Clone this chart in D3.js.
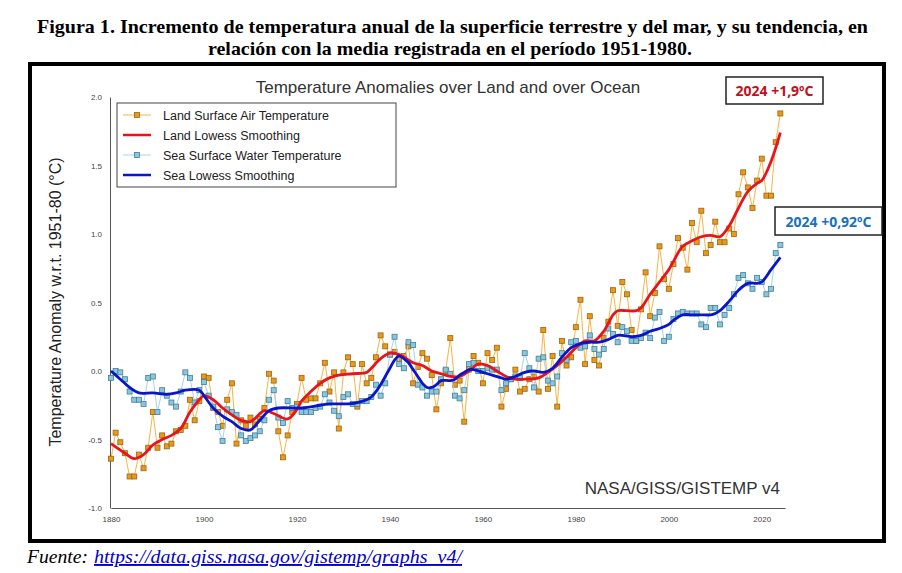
<!DOCTYPE html>
<html>
<head>
<meta charset="utf-8">
<script src="https://cdn.jsdelivr.net/npm/d3@7"></script>
<style>
  body { margin: 0; background: #fff; }
  .tick text { font-family: "Liberation Sans", Arial, sans-serif; font-size: 8px; fill: #444; }
</style>
</head>
<body>
<div id="chart"></div>
<script>
/* DATA */
const startYear = 1880;

// annual land surface air temperature anomaly, 1880-2024
const landTemp = [
  -0.64,-0.45,-0.52,-0.60,-0.77,-0.77,-0.61,-0.71,-0.56,-0.30,
  -0.56,-0.47,-0.55,-0.53,-0.44,-0.43,-0.40,-0.21,-0.36,-0.22,
  -0.04,-0.05,-0.27,-0.30,-0.40,-0.21,-0.09,-0.53,-0.36,-0.40,
  -0.34,-0.39,-0.35,-0.27,-0.02,-0.07,-0.44,-0.63,-0.47,-0.30,
  -0.24,-0.05,-0.21,-0.20,-0.20,-0.09, 0.06,-0.15,-0.01,-0.42,
  -0.01, 0.10, 0.05,-0.26, 0.05,-0.09,-0.05, 0.10, 0.26, 0.18,
   0.12, 0.14, 0.09, 0.11, 0.18,-0.09, 0.03, 0.13, 0.09,-0.03,
  -0.28,-0.09, 0.00, 0.24,-0.10,-0.07,-0.37, 0.01, 0.11, 0.06,
  -0.09, 0.13, 0.08, 0.17,-0.26,-0.13,-0.06, 0.01,-0.15,-0.13,
  -0.06,-0.04,-0.15, 0.30,-0.13, 0.11,-0.26, 0.22, 0.04, 0.10,
   0.32, 0.52, 0.05, 0.40, 0.08, 0.04, 0.24, 0.36, 0.59, 0.33,
   0.65, 0.56, 0.30, 0.22, 0.45, 0.72, 0.40, 0.57, 0.91, 0.67,
   0.60, 0.78, 0.97, 0.90, 0.74, 1.08, 0.94, 1.17, 0.86, 0.92,
   1.09, 0.94, 0.94, 1.04, 1.00, 1.29, 1.45, 1.34, 1.19, 1.39,
   1.55, 1.28, 1.28, 1.67, 1.88
];

// annual sea surface water temperature anomaly, 1880-2024
const seaTemp = [
  -0.05, 0.00,-0.01,-0.06,-0.15,-0.21,-0.21,-0.24,-0.05,-0.04,
  -0.30,-0.14,-0.18,-0.23,-0.26,-0.15,-0.01,-0.05,-0.23,-0.14,
  -0.08,-0.18,-0.26,-0.41,-0.51,-0.28,-0.30,-0.32,-0.47,-0.51,
  -0.49,-0.47,-0.44,-0.36,-0.21,-0.14,-0.34,-0.38,-0.22,-0.27,
  -0.26,-0.30,-0.30,-0.30,-0.27,-0.26,-0.17,-0.23,-0.29,-0.33,
  -0.19,-0.17,-0.24,-0.24,-0.22,-0.22,-0.19,-0.10,-0.18,-0.09,
   0.12, 0.25, 0.05, 0.02, 0.21, 0.19,-0.10,-0.12,-0.18,-0.15,
  -0.15,-0.06, 0.01,-0.02,-0.18,-0.20,-0.14, 0.05, 0.06, 0.00,
   0.00, 0.02, 0.01, 0.01,-0.14,-0.09,-0.06,-0.04,-0.05, 0.13,
   0.02,-0.12, 0.09, 0.10,-0.07,-0.09,-0.04, 0.13, 0.08, 0.21,
   0.22, 0.17, 0.18, 0.26, 0.16, 0.12, 0.16, 0.31, 0.27, 0.21,
   0.32, 0.29, 0.22, 0.22, 0.24, 0.28, 0.24, 0.39, 0.43, 0.22,
   0.25, 0.38, 0.42, 0.43, 0.42, 0.42, 0.42, 0.34, 0.32, 0.46,
   0.46, 0.34, 0.41, 0.46, 0.56, 0.68, 0.70, 0.64, 0.60, 0.68,
   0.65, 0.56, 0.60, 0.86, 0.92
];

// lowess smoothing curves, read at a set of years
const landSmoothYears = [1880,1883,1885,1887,1889,1891,1893,1895,1897,1899,1900,1902,1904,1906,1908,1910,1913,1915,1918,1920,1921,1923,1925,1927,1929,1932,1935,1936,1938,1940,1942,1945,1947,1949,1951,1953,1955,1957,1959,1961,1963,1965,1967,1969,1972,1974,1976,1978,1980,1982,1984,1986,1988,1989,1991,1993,1994,1996,1998,2000,2001,2003,2005,2007,2009,2011,2013,2015,2017,2019,2020,2022,2024];
const landSmooth      = [-0.53,-0.60,-0.64,-0.61,-0.54,-0.50,-0.47,-0.42,-0.30,-0.21,-0.18,-0.21,-0.27,-0.32,-0.36,-0.37,-0.29,-0.31,-0.35,-0.28,-0.22,-0.15,-0.09,-0.05,-0.03,-0.02,-0.01,0.02,0.09,0.13,0.12,0.06,0.04,0.00,-0.02,-0.04,-0.04,0.00,0.05,0.04,0.00,-0.04,-0.06,-0.06,-0.05,-0.01,0.04,0.10,0.17,0.22,0.22,0.29,0.41,0.44,0.44,0.44,0.46,0.56,0.65,0.74,0.80,0.91,0.95,0.98,0.99,0.98,1.06,1.19,1.31,1.37,1.39,1.53,1.74];

const seaSmoothYears = [1880,1882,1884,1886,1889,1892,1894,1896,1899,1900,1902,1904,1906,1908,1910,1912,1914,1916,1921,1925,1927,1931,1933,1935,1936,1937,1938,1939,1940,1941,1942,1943,1944,1945,1946,1947,1948,1949,1950,1951,1953,1954,1955,1956,1957,1958,1960,1962,1964,1965,1967,1969,1971,1973,1975,1977,1979,1981,1983,1985,1987,1989,1990,1992,1994,1996,1998,2000,2001,2003,2005,2007,2009,2010,2011,2013,2015,2017,2019,2020,2022,2024];
const seaSmooth      = [0.00,-0.06,-0.12,-0.16,-0.16,-0.17,-0.16,-0.14,-0.14,-0.18,-0.27,-0.33,-0.37,-0.42,-0.43,-0.36,-0.29,-0.27,-0.27,-0.25,-0.24,-0.24,-0.23,-0.21,-0.19,-0.15,-0.10,-0.04,0.02,0.08,0.11,0.09,0.06,0.01,-0.04,-0.09,-0.12,-0.12,-0.10,-0.07,-0.07,-0.06,-0.03,-0.01,0.01,0.01,-0.01,-0.03,-0.05,-0.06,-0.04,-0.01,0.00,-0.01,0.02,0.10,0.17,0.20,0.21,0.21,0.23,0.26,0.26,0.25,0.26,0.29,0.31,0.34,0.37,0.41,0.41,0.41,0.41,0.42,0.44,0.51,0.59,0.64,0.64,0.65,0.74,0.83];

const xTicks = [1880,1900,1920,1940,1960,1980,2000,2020];
const yTicks = [-1.0,-0.5,0.0,0.5,1.0,1.5,2.0];

const legendItems = [
  {label: "Land Surface Air Temperature", kind: "land"},
  {label: "Land Lowess Smoothing", kind: "landSmooth"},
  {label: "Sea Surface Water Temperature", kind: "sea"},
  {label: "Sea Lowess Smoothing", kind: "seaSmooth"}
];

/* COLOURS */
const landLine = "#f7b445", landFill = "#e89a1c", landStroke = "#9a6410";
const seaLine = "#a6d4ea", seaFill = "#8cc6dc", seaStroke = "#3f7f98";
const redLine = "#e8141b", blueLine = "#0a14c8";

/* SVG */
const width = 902, height = 573;
const svg = d3.select("#chart").append("svg")
    .attr("width", width)
    .attr("height", height);

const serif = '"Liberation Serif", "Times New Roman", serif';
const sans = '"Liberation Sans", Arial, sans-serif';

/* FIGURE TITLE */
svg.append("text")
    .attr("x", 37).attr("y", 33)
    .attr("textLength", 831).attr("lengthAdjust", "spacingAndGlyphs")
    .style("font-family", serif).style("font-weight", "bold").style("font-size", "19px")
    .text("Figura 1. Incremento de temperatura anual de la superficie terrestre y del mar, y su tendencia, en");

svg.append("text")
    .attr("x", 450).attr("y", 55)
    .attr("text-anchor", "middle")
    .attr("textLength", 484).attr("lengthAdjust", "spacingAndGlyphs")
    .style("font-family", serif).style("font-weight", "bold").style("font-size", "19px")
    .text("relación con la media registrada en el período 1951-1980.");

/* FRAME */
svg.append("rect")
    .attr("x", 30).attr("y", 64)
    .attr("width", 854).attr("height", 477)
    .attr("fill", "none").attr("stroke", "#000").attr("stroke-width", 4);

/* SCALES */
const xScale = d3.scaleLinear().domain([1880, 2025]).range([111, 785]);
const yScale = d3.scaleLinear().domain([-1, 2]).range([508, 97]);

/* AXES */
svg.append("g")
    .attr("transform", `translate(0,${yScale(-1)})`)
    .call(d3.axisBottom(xScale).tickValues(xTicks).tickSize(0).tickPadding(8).tickFormat(d3.format("d")))
    .call(g => g.select(".domain").attr("stroke", "#555"));

svg.append("g")
    .attr("transform", `translate(${xScale(1880) - 1},0)`)
    .call(d3.axisLeft(yScale).tickValues(yTicks).tickSize(0).tickPadding(8).tickFormat(d => d.toFixed(1)))
    .call(g => g.select(".domain").attr("stroke", "#555"));

/* TEXTS */
svg.append("text")
    .attr("x", 448).attr("y", 93)
    .attr("text-anchor", "middle")
    .style("font-family", sans).style("font-size", "17px").style("fill", "#333")
    .text("Temperature Anomalies over Land and over Ocean");

svg.append("text")
    .attr("transform", "rotate(-90)")
    .attr("x", -302).attr("y", 61)
    .attr("text-anchor", "middle")
    .style("font-family", sans).style("font-size", "16px").style("fill", "#222")
    .text("Temperature Anomaly w.r.t. 1951-80 (°C)");

svg.append("text")
    .attr("x", 780).attr("y", 494)
    .attr("text-anchor", "end")
    .style("font-family", sans).style("font-size", "17px").style("fill", "#333")
    .text("NASA/GISS/GISTEMP v4");

/* SERIES */
const landData = landTemp.map((v, i) => ({year: startYear + i, value: v}));
const seaData = seaTemp.map((v, i) => ({year: startYear + i, value: v}));
const landSmoothData = landSmoothYears.map((y, i) => ({year: y, value: landSmooth[i]}));
const seaSmoothData = seaSmoothYears.map((y, i) => ({year: y, value: seaSmooth[i]}));

const line = d3.line()
    .x(d => xScale(d.year))
    .y(d => yScale(d.value));

const smoothLine = d3.line()
    .x(d => xScale(d.year))
    .y(d => yScale(d.value))
    .curve(d3.curveCatmullRom.alpha(0.5));

const sq = 5;

// land raw
svg.append("path").datum(landData)
    .attr("d", line).attr("fill", "none")
    .attr("stroke", landLine).attr("stroke-width", 1);

svg.selectAll("rect.land").data(landData).enter().append("rect")
    .attr("class", "land")
    .attr("x", d => xScale(d.year) - sq / 2)
    .attr("y", d => yScale(d.value) - sq / 2)
    .attr("width", sq).attr("height", sq)
    .attr("fill", landFill).attr("stroke", landStroke).attr("stroke-width", 0.8);

// sea raw
svg.append("path").datum(seaData)
    .attr("d", line).attr("fill", "none")
    .attr("stroke", seaLine).attr("stroke-width", 1);

svg.selectAll("rect.sea").data(seaData).enter().append("rect")
    .attr("class", "sea")
    .attr("x", d => xScale(d.year) - sq / 2)
    .attr("y", d => yScale(d.value) - sq / 2)
    .attr("width", sq).attr("height", sq)
    .attr("fill", seaFill).attr("stroke", seaStroke).attr("stroke-width", 0.8);

// lowess curves
svg.append("path").datum(landSmoothData)
    .attr("d", smoothLine).attr("fill", "none")
    .attr("stroke", redLine).attr("stroke-width", 2.8);

svg.append("path").datum(seaSmoothData)
    .attr("d", smoothLine).attr("fill", "none")
    .attr("stroke", blueLine).attr("stroke-width", 2.8);

/* LEGEND */
const legend = svg.append("g").attr("transform", "translate(117,103)");
legend.append("rect")
    .attr("width", 279).attr("height", 84)
    .attr("fill", "#fff").attr("stroke", "#444").attr("stroke-width", 1);

legendItems.forEach(function(item, i) {
    const y = 12 + i * 20;
    const g = legend.append("g").attr("transform", `translate(0,${y})`);
    if (item.kind === "land" || item.kind === "sea") {
        g.append("line").attr("x1", 6).attr("x2", 34).attr("y1", 0).attr("y2", 0)
            .attr("stroke", item.kind === "land" ? landLine : seaLine).attr("stroke-width", 1);
        g.append("rect").attr("x", 20 - sq / 2).attr("y", -sq / 2).attr("width", sq).attr("height", sq)
            .attr("fill", item.kind === "land" ? landFill : seaFill)
            .attr("stroke", item.kind === "land" ? landStroke : seaStroke).attr("stroke-width", 0.8);
    } else {
        g.append("line").attr("x1", 6).attr("x2", 34).attr("y1", 0).attr("y2", 0)
            .attr("stroke", item.kind === "landSmooth" ? redLine : blueLine).attr("stroke-width", 2.5);
    }
    g.append("text")
        .attr("x", 46).attr("y", 4.5)
        .style("font-family", sans).style("font-size", "12.5px").style("fill", "#222")
        .text(item.label);
});

/* 2024 ANNOTATIONS */
const notes = [
  {text: "2024 +1,9ºC", x: 726, y: 77, w: 97, h: 27, tw: 78, color: "#c0101c"},
  {text: "2024 +0,92ºC", x: 775, y: 207, w: 107, h: 28, tw: 86, color: "#1a70c0"}
];
notes.forEach(function(n) {
    svg.append("rect")
        .attr("x", n.x).attr("y", n.y).attr("width", n.w).attr("height", n.h)
        .attr("fill", "#fff").attr("stroke", "#222").attr("stroke-width", 1.5);
    svg.append("text")
        .attr("x", n.x + n.w / 2).attr("y", n.y + n.h / 2 + 5.5)
        .attr("text-anchor", "middle")
        .attr("textLength", n.tw).attr("lengthAdjust", "spacingAndGlyphs")
        .style("font-family", '"Noto Sans", sans-serif').style("font-weight", "bold")
        .style("font-size", "15px").style("fill", n.color)
        .text(n.text);
});

/* SOURCE */
svg.append("text")
    .attr("x", 27).attr("y", 563)
    .attr("textLength", 61).attr("lengthAdjust", "spacingAndGlyphs")
    .style("font-family", serif).style("font-style", "italic").style("font-size", "19px")
    .text("Fuente:");
svg.append("text")
    .attr("x", 94).attr("y", 563)
    .attr("textLength", 368).attr("lengthAdjust", "spacingAndGlyphs")
    .style("font-family", serif).style("font-style", "italic").style("font-size", "19px")
    .style("fill", "#0000cc").style("text-decoration", "underline")
    .text("https://data.giss.nasa.gov/gistemp/graphs_v4/");
</script>
</body>
</html>
